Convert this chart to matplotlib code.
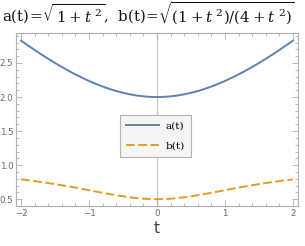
import matplotlib
matplotlib.use("Agg")
import matplotlib.pyplot as plt
from matplotlib.ticker import MultipleLocator

# values, one every 0.1 in t
t = [-2.0, -1.9, -1.8, -1.7, -1.6, -1.5, -1.4, -1.3, -1.2, -1.1,
     -1.0, -0.9, -0.8, -0.7, -0.6, -0.5, -0.4, -0.3, -0.2, -0.1,
     0.0, 0.1, 0.2, 0.3, 0.4, 0.5, 0.6, 0.7, 0.8, 0.9,
     1.0, 1.1, 1.2, 1.3, 1.4, 1.5, 1.6, 1.7, 1.8, 1.9, 2.0]
a_half = [2.000, 2.002, 2.010, 2.022, 2.040, 2.062, 2.088, 2.119, 2.154, 2.193,
          2.236, 2.283, 2.332, 2.385, 2.441, 2.500, 2.561, 2.625, 2.691, 2.759, 2.828]
b_half = [0.500, 0.502, 0.507, 0.516, 0.528, 0.542, 0.558, 0.576, 0.594, 0.613,
          0.632, 0.651, 0.670, 0.688, 0.705, 0.721, 0.737, 0.751, 0.765, 0.778, 0.791]
# both curves are mirror images around t = 0
a_vals = a_half[:0:-1] + a_half
b_vals = b_half[:0:-1] + b_half
labels = ["a(t)", "b(t)"]
title = (r"$\mathrm{a(t)}\!=\!\sqrt{\,1+t^{\ 2}}$,  "
         r"$\mathrm{b(t)}\!=\!\sqrt{\left(1+t^{\ 2}\right)/\left(4+t^{\ 2}\right)}$")

blue = "#5e81b5"
orange = "#e19c24"
frame_col = "#b0b0b0"
tick_col = "#6a6a6a"

fig = plt.figure(figsize=(3.05, 2.46), dpi=100)
ax = fig.add_axes([16 / 305, 40 / 246, 282 / 305, 173 / 246])

ax.axvline(0, color="#c8c8c8", lw=0.9, zorder=1)
ax.plot(t, a_vals, color=blue, lw=1.4, label=labels[0], zorder=3)
ax.plot(t, b_vals, color=orange, lw=1.4, ls=(0, (4.5, 1.8)), label=labels[1], zorder=3)

ax.set_xlim(-2.074, 2.074)
ax.set_ylim(0.40, 2.94)
ax.xaxis.set_minor_locator(MultipleLocator(0.2))
ax.yaxis.set_minor_locator(MultipleLocator(0.1))
ax.set_xticks([-2, -1, 0, 1, 2])
ax.set_xticklabels(["\u22122", "\u22121", "0", "1", "2"])
ax.set_yticks([0.5, 1.0, 1.5, 2.0, 2.5])
ax.set_yticklabels(["0.5", "1.0", "1.5", "2.0", "2.5"])

for s in ax.spines.values():
    s.set_color(frame_col)
    s.set_linewidth(0.8)
ax.tick_params(which="both", direction="in", top=True, right=True,
               color=frame_col, labelcolor=tick_col, labelsize=6.2, width=0.6)
ax.tick_params(which="major", length=4, pad=2)
ax.tick_params(which="minor", length=2)

ax.set_xlabel("t", fontsize=11, color="#404040", labelpad=2)

leg = ax.legend(loc="upper left", bbox_to_anchor=(120 / 305, 1 - 115 / 246),
                bbox_transform=fig.transFigure, borderaxespad=0,
                handlelength=3.1, handletextpad=0.7,
                labelspacing=1.0, borderpad=0.6, fancybox=False,
                framealpha=1, facecolor="#f5f5f5", edgecolor="#b4b4b4",
                prop={"family": "DejaVu Serif", "size": 7.5})
leg.get_frame().set_linewidth(0.8)

plt.rcParams["mathtext.fontset"] = "dejavuserif"
fig.text(0.006, 0.945, title, fontsize=10.8, family="DejaVu Serif",
         va="center", ha="left", color="#111111")

fig.savefig("out.png", dpi=100)
